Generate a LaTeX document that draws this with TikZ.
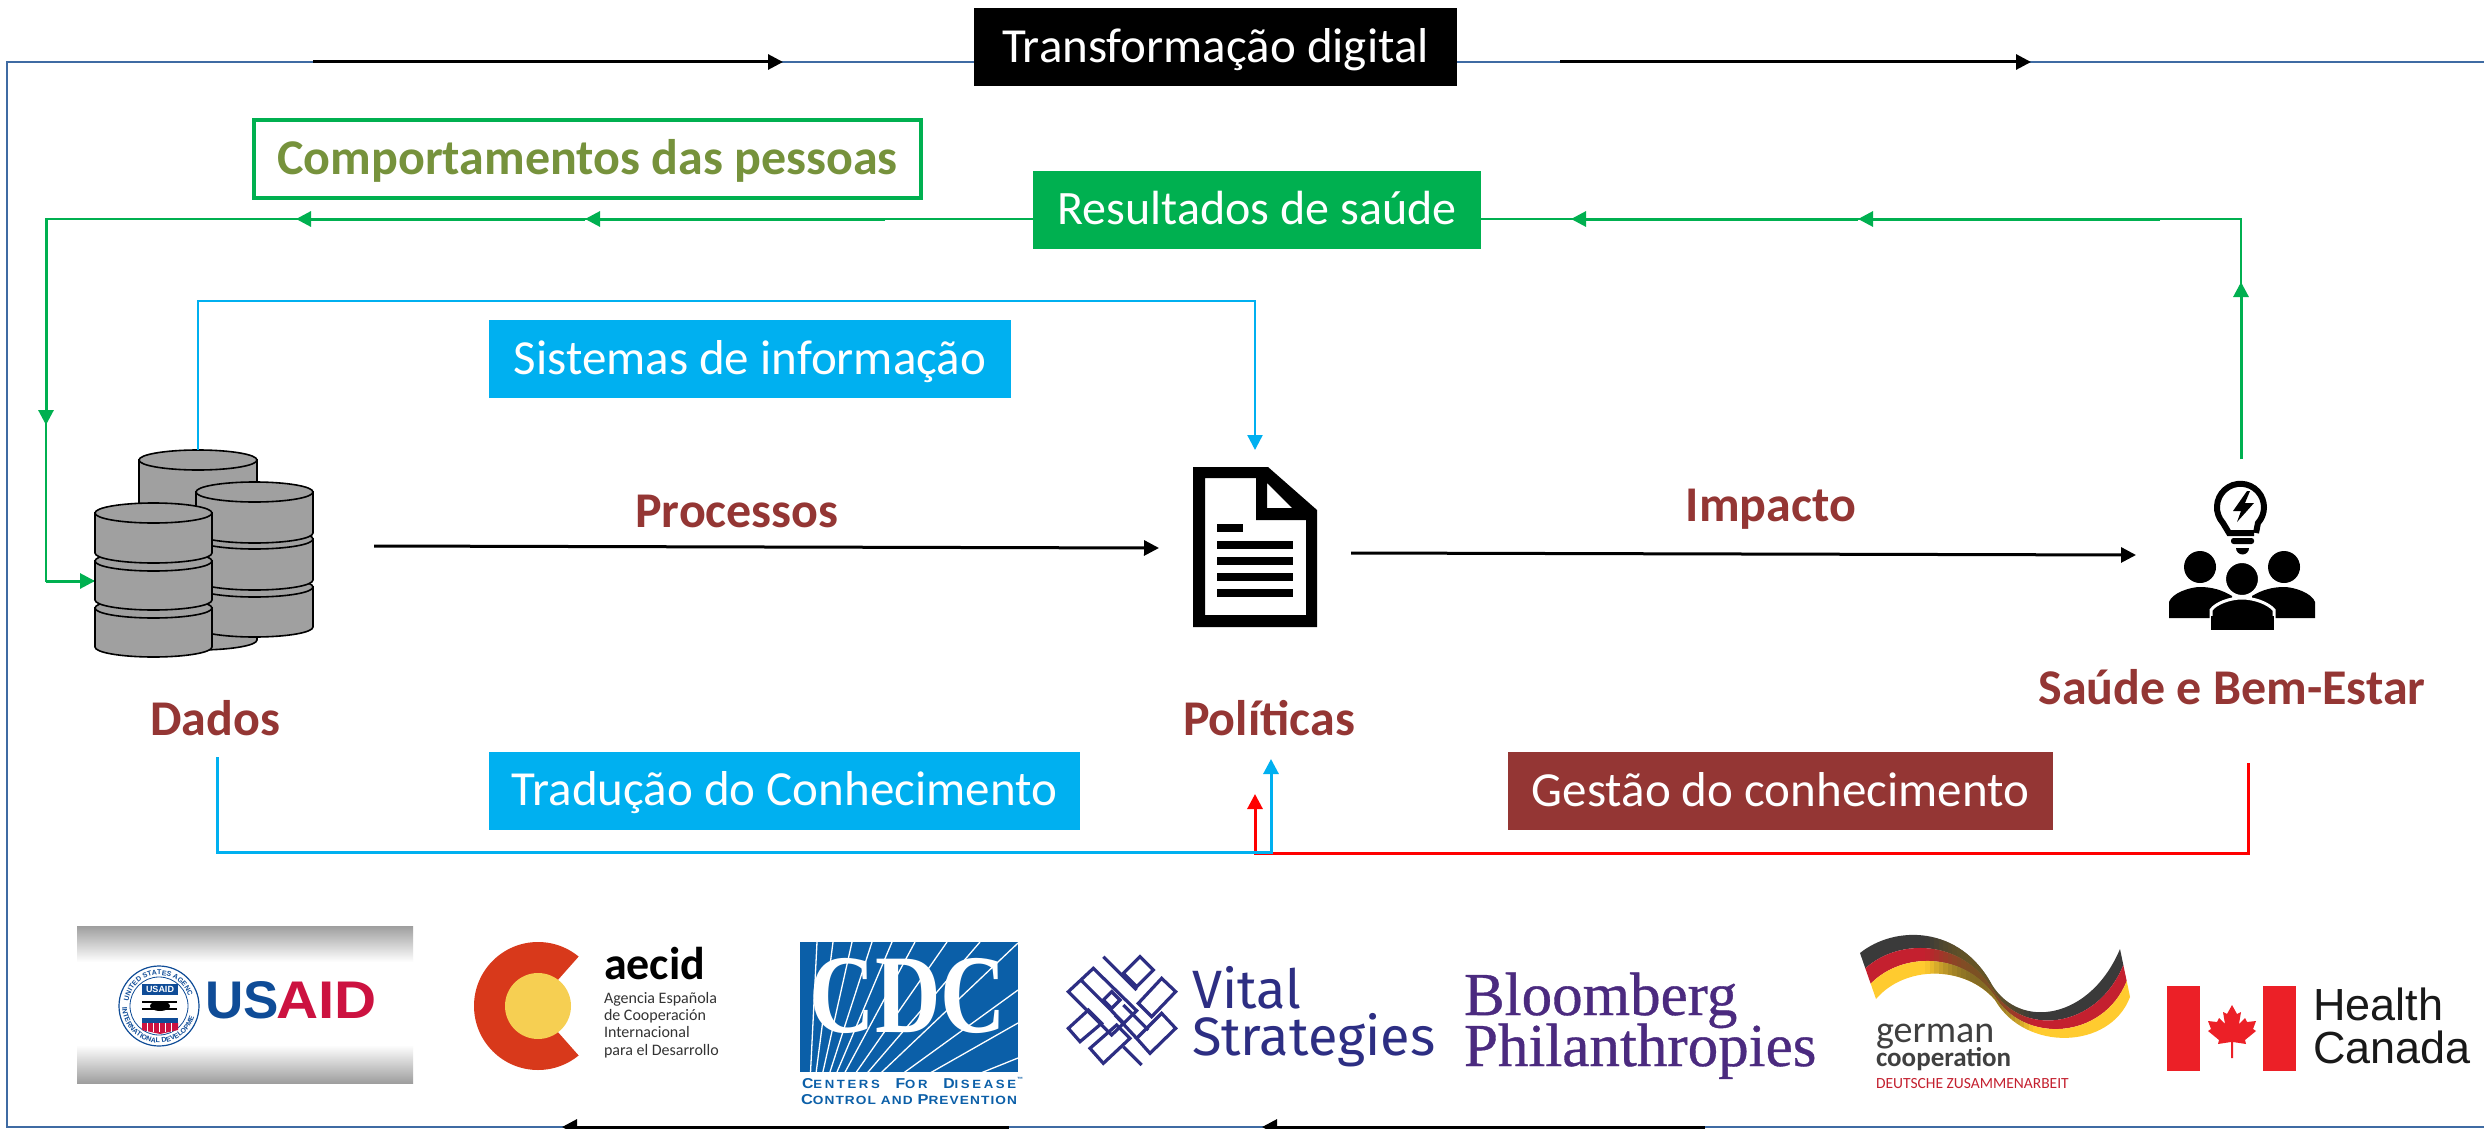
\documentclass[tikz,border=0pt]{standalone}
\usepackage{fontspec}
\usepackage{graphicx}
\setmainfont{Carlito}
\newfontfamily\arialf{Liberation Sans}
\newfontfamily\timesf{Liberation Serif}
\newfontfamily\timesfk[FakeBold=0.6]{Liberation Serif}
\newfontfamily\fira{Fira Sans}
\usetikzlibrary{arrows.meta,decorations.text,calc}
\definecolor{framebl}{HTML}{3F6BA3}
\definecolor{gr}{HTML}{00B050}
\definecolor{cy}{HTML}{00B0F0}
\definecolor{brn}{HTML}{943634}
\definecolor{oli}{HTML}{76923C}
\definecolor{dbg}{HTML}{A0A0A0}
\definecolor{usnavy}{HTML}{0F4C97}
\definecolor{usred}{HTML}{CC1240}
\definecolor{cdcbl}{HTML}{0B5FA8}
\definecolor{vit}{HTML}{2D2E83}
\definecolor{blo}{HTML}{4B2A7F}
\definecolor{canr}{HTML}{EC2027}
\definecolor{gerbk}{HTML}{3A3A3A}
\definecolor{gerrd}{HTML}{C4202F}
\definecolor{gery}{HTML}{FFCB2F}
\definecolor{gerol}{HTML}{6E5A22}
\definecolor{aer}{HTML}{D8391B}
\definecolor{aey}{HTML}{F6CF52}
\newcommand{\fs}[1]{\fontsize{#1}{#1}\selectfont}
\newcommand{\dbseg}[4]{%
  \pgfmathsetmacro\rr{(#2-#1)/2}\pgfmathsetmacro\mm{(#2+#1)/2}%
  \filldraw[dbst] (#1,#3) -- (#1,#4) arc[start angle=180,end angle=0,x radius=\rr,y radius=10] -- (#2,#3) -- cycle;%
  \filldraw[dbst] (\mm,#3) ellipse[x radius=\rr,y radius=10];}
\tikzset{
  every node/.style={inner sep=0pt,outer sep=0pt},
  flow/.style={line width=3pt,-{Triangle[length=15pt,width=15pt]}},
  thinflow/.style={line width=2pt},
  blackflow/.style={flow,draw=black},
  tag/.style={minimum height=78pt,text=white,font=\fs{49},text height=35pt,text depth=5pt},
  lab/.style={text=brn,font=\fs{50}\bfseries,anchor=base},
  dbst/.style={fill=dbg,draw=black,line width=1.6pt},
  knot/.style={draw=vit,line width=3.2pt,line join=miter},
  logotxt/.style={anchor=base west},
  icon/.style={minimum width=#1,minimum height=#1}
}
\begin{document}
\begin{tikzpicture}[x=1pt,y=-1pt]
\useasboundingbox (0,0) rectangle (2484,1129);
\fill[white] (0,0) rectangle (2484,1129);

% outer frame
\coordinate (fa) at (2484,62); \coordinate (fb) at (7,62);
\coordinate (fc) at (7,1127);  \coordinate (fd) at (2484,1127);
\draw[framebl,line width=2.6pt] (fa) -- (fb) -- (fc) -- (fd);
\coordinate (t1a) at (313,62); \coordinate (t1b) at (783,62);
\coordinate (t2a) at (1560,62);\coordinate (t2b) at (2031,62);
\draw[blackflow] (t1a) -- (t1b);
\draw[blackflow] (t2a) -- (t2b);
\coordinate (b1a) at (1009,1127); \coordinate (b1b) at (562,1127);
\coordinate (b2a) at (1705,1127); \coordinate (b2b) at (1262,1127);
\draw[blackflow] (b1a) -- (b1b);
\draw[blackflow] (b2a) -- (b2b);
\node[tag,fill=black,minimum width=483pt] (transf) at (1215.5,47.5) {Transformação digital};

% icon anchors
\node[icon=10pt] (dbicon) at (204,555) {};
\node[icon=10pt] (docicon) at (1255,547) {};
\node[icon=10pt] (peopleicon) at (2242,560) {};

% green loop
\coordinate (g0) at (2241,459); \coordinate (g1) at (2241,282); \coordinate (g2) at (2241,219);
\coordinate (g2b) at (2160,219);
\coordinate (g3) at (1858,219); \coordinate (g4) at (1571,219);
\coordinate (g4b) at (885,219);
\coordinate (g5) at (585,219);  \coordinate (g6) at (296,219);
\coordinate (g7) at (46,219);   \coordinate (g8) at (46,425); \coordinate (g9) at (46,581); \coordinate (g10) at (95,581);
\draw[gr,thinflow] (g0) -- (g2) -- (g7) -- (g9) -- (g10);
\draw[flow,draw=gr] (g0) -- (g1);
\draw[flow,draw=gr] (g2b) -- (g3);
\draw[flow,draw=gr] (g3) -- (g4);
\draw[flow,draw=gr] (g4b) -- (g5);
\draw[flow,draw=gr] (g5) -- (g6);
\draw[flow,draw=gr] (g7) -- (g8);
\draw[flow,draw=gr] (g9) -- (g10);
\node[tag,fill=gr,minimum width=448pt,font=\fs{48}] (result) at (1257,209.5) {Resultados de saúde};
\node[draw=gr,line width=4pt,minimum width=667pt,minimum height=77pt,fill=white,text=oli,font=\fs{50}\bfseries,text height=35pt,text depth=5pt] (comport) at (587.5,159) {Comportamentos das pessoas};

% database icon
\dbseg{139}{257}{460}{640}
\dbseg{196}{313}{587}{627}
\dbseg{196}{313}{539}{580}
\dbseg{196}{313}{492}{533}
\dbseg{95}{212}{608}{647}
\dbseg{95}{212}{561}{600}
\dbseg{95}{212}{513}{553}

% blue top connector
\coordinate (c0) at (198,450); \coordinate (c1) at (198,301); \coordinate (c2) at (1255,301); \coordinate (c3) at (1255,450);
\draw[flow,draw=cy,line width=2.4pt] (c0) -- (c1) -- (c2) -- (c3);
\node[tag,fill=cy,minimum width=522pt] (sist) at (750,359) {Sistemas de informação};

% document icon
\fill[black,even odd rule] (1193,467) -- (1268,467) -- (1317,510) -- (1317,627) -- (1193,627) -- cycle
  (1205,478) -- (1256,478) -- (1256,520) -- (1306,520) -- (1306,615) -- (1205,615) -- cycle
  (1267,483) -- (1292,508) -- (1267,508) -- cycle;
\fill (1217,524) rectangle (1243,532);
\foreach \yy in {541,557,573,589}{\fill (1217,\yy) rectangle (1293,\yy+8);}

% people icon
\draw[line width=6pt] (2254,533) -- (2229,533) -- (2223,523) arc[start angle=138,end angle=402,radius=23.5] -- (2256,533);
\fill (2247,491) -- (2233,511) -- (2241,511) -- (2237,522) -- (2254,503) -- (2245,503) -- (2250,491) -- cycle;
\fill[rounded corners=2.5pt] (2231,538) rectangle (2254,544);
\fill (2236,548) -- (2249,548) arc[start angle=0,end angle=180,radius=6.5] -- cycle;
\fill (2200,567) circle[radius=16];
\fill (2284,567) circle[radius=16];
\fill (2169,618) -- (2169,602) .. controls (2172,593) and (2190,587) .. (2200,587) .. controls (2212,587) and (2222,590) .. (2232,596) -- (2232,618) -- cycle;
\fill (2315,618) -- (2315,602) .. controls (2312,593) and (2294,587) .. (2284,587) .. controls (2272,587) and (2262,590) .. (2252,596) -- (2252,618) -- cycle;
\filldraw[draw=white,line width=3pt] (2211,631) -- (2211,610) .. controls (2216,603) and (2230,598) .. (2242,598) .. controls (2254,598) and (2268,603) .. (2274,610) -- (2274,631) -- cycle;
\filldraw[draw=white,line width=2pt] (2242,579) circle[radius=17];
\fill[white] (2205,630.5) rectangle (2280,634);
\fill (2211,616) rectangle (2274,630);

% main black arrows
\coordinate (p0) at (374,546); \coordinate (p1) at (1159,548);
\draw[blackflow] (p0) -- (p1);
\coordinate (i0) at (1351,553); \coordinate (i1) at (2136,555);
\draw[blackflow] (i0) -- (i1);

% labels
\node[lab] (processos) at (737,527) {Processos};
\node[lab] (impacto) at (1771,521) {Impacto};
\node[lab] (dados) at (215,735) {Dados};
\node[lab] (politicas) at (1269,735) {Políticas};
\node[lab] (saude) at (2232,704) {Saúde e Bem-Estar};

% bottom connectors
\coordinate (r0) at (2248,763); \coordinate (r1) at (2248,853); \coordinate (r2) at (1255,853); \coordinate (r3) at (1255,794);
\draw[flow,draw=red] (r0) -- (r1) -- (r2) -- (r3);
\coordinate (k0) at (217,757); \coordinate (k1) at (217,852); \coordinate (k2) at (1271,852); \coordinate (k3) at (1271,759);
\draw[flow,draw=cy] (k0) -- (k1) -- (k2) -- (k3);
\node[tag,fill=cy,minimum width=591pt] (trad) at (784.5,790.5) {Tradução do Conhecimento};
\node[tag,fill=brn,minimum width=545pt] (gest) at (1780.5,791) {Gestão do conhecimento};

% ---- logos ----
% USAID
\shade[top color=black!38,bottom color=white] (77,926) rectangle (413,962);
\fill[white] (77,962) rectangle (413,1050);
\shade[top color=white,bottom color=black!38] (77,1045) rectangle (413,1083);
\filldraw[fill=white,draw=usnavy,line width=1.2pt] (159,1006) circle[radius=40];
\draw[usnavy,line width=.8pt] (159,1006) circle[radius=29];
\path[postaction={decorate},decoration={text along path,text align=center,text={|\arialf\fs{7}\bfseries\color{usnavy}|UNITED STATES AGENCY}}] (159,1006) ++(195:31) arc[start angle=195,end angle=345,radius=31];
\path[postaction={decorate},decoration={text along path,text align=center,text={|\arialf\fs{7}\bfseries\color{usnavy}|INTERNATIONAL DEVELOPMENT}}] (159,1006) ++(165:37) arc[start angle=165,end angle=15,radius=37];
\node[fill=usnavy,minimum width=36pt,minimum height=11pt,text=white,font=\arialf\fs{9}\bfseries] (usbadge) at (160,989.5) {USAID};
\draw[line width=1.3pt] (142,1002) -- (177,1002) (142,1009) -- (177,1009);
\fill (160,1006) ellipse[x radius=10,y radius=5];
\fill[usnavy] (142,1018) rectangle (178,1023);
\fill[usred] (142,1023) -- (178,1023) -- (178,1030) -- (160,1034) -- (142,1030) -- cycle;
\foreach \xx in {147,153,159,165,171}{\fill[white] (\xx,1023) rectangle (\xx+1.4,1032);}
\node[logotxt,text=usnavy,font=\arialf\fs{53}\bfseries] (usa) at (205,1018) {US};
\node[logotxt,text=usred,font=\arialf\fs{53}\bfseries] (aid) at (276,1018) {\scalebox{1.1}[1]{AID}};

% AECID
\fill[aer] (538,1006) circle[radius=64];
\fill[white] (610,935) -- (582,953) -- (535,1006) -- (582,1059) -- (610,1077) -- cycle;
\fill[aey] (538,1006) circle[radius=33];
\node[logotxt,font=\fs{46}\bfseries] (aecidt) at (604,979) {aecid};
\node[logotxt,text=black!80,font=\fs{16}] (ae1) at (604,1003) {Agencia Española};
\node[logotxt,text=black!80,font=\fs{16}] (ae2) at (604,1020) {de Cooperación};
\node[logotxt,text=black!80,font=\fs{16}] (ae3) at (604,1037) {Internacional};
\node[logotxt,text=black!80,font=\fs{16}] (ae4) at (604,1055) {para el Desarrollo};

% CDC
\fill[cdcbl] (800,942) rectangle (1018,1072);
\begin{scope}
\clip (800,942) rectangle (1018,1072);
\coordinate (cdo) at (807,1143);
\foreach \ex/\ey in {817/942,833/942,852/942,872/942,892/942,915/942,947/942,980/942,1018/943,1018/990,1018/1023,1018/1058}{
  \draw[white,line width=1.3pt] (cdo) -- (\ex,\ey);}
\end{scope}
\node[text=white,font=\timesf\bfseries\fs{112},anchor=base] (cdct) at (908,1032) {\scalebox{.81}[1]{CDC}};
\node[text=cdcbl,font=\arialf\bfseries,anchor=base] (cdc1) at (909,1088) {\resizebox{214pt}{10pt}{\fs{12}\addfontfeatures{LetterSpace=20}C\fs{10}ENTERS\hspace{1.2em}\fs{12}F\fs{10}OR\hspace{1.2em}\fs{12}D\fs{10}ISEASE}};
\node[text=cdcbl,font=\arialf\fs{6}\bfseries] (cdctm) at (1020,1079) {™};
\node[text=cdcbl,font=\arialf\bfseries,anchor=base] (cdc2) at (909,1104) {\resizebox{216pt}{10pt}{\fs{12}\addfontfeatures{LetterSpace=8}C\fs{10}ONTROL AND \fs{12}P\fs{10}REVENTION}};

% Vital Strategies knot
\begin{scope}[shift={(1055,940)},x=.3333pt,y=-.3333pt]
\draw[knot] (205,100) -- (255,50) -- (295,90) -- (245,140) -- cycle;
\draw[knot] (145,50) -- (245,150);
\draw[knot] (115,85) -- (40,155) -- (170,285) -- (245,212) -- cycle;
\draw[knot] (78,120) -- (205,248);
\draw[knot] (170,155) -- (195,180) -- (170,205) -- (145,180) -- cycle;
\draw[knot] (105,325) -- (145,370) -- (225,295) -- (185,255) -- cycle;
\draw[knot] (205,320) -- (260,375);
\draw[knot] (40,265) -- (100,210) -- (140,250) -- (75,305) -- cycle;
\draw[knot] (250,190) -- (320,115) -- (362,155) -- (290,230) -- cycle;
\draw[knot] (285,340) -- (362,265) -- (320,220) -- (245,295) -- cycle;
\draw[knot] (180,225) -- (245,295);
\draw[knot] (205,195) -- (280,270);
\end{scope}
\node[logotxt,text=vit,font=\fira\fs{54}] (vit1) at (1192,1008) {Vital};
\node[logotxt,text=vit,font=\fira\fs{54}] (vit2) at (1192,1055) {Strategies};

% Bloomberg
\node[logotxt,text=blo,font=\timesfk\fs{61}] (blo1) at (1464,1015) {Bloomberg};
\node[logotxt,text=blo,font=\timesfk\fs{61}] (blo2) at (1464,1066) {Philanthropies};

% German cooperation
\fill[gerbk] (1860,953) .. controls (1895,925) and (1960,925) .. (1992,985) .. controls (2020,1030) and (2090,1020) .. (2120,949)
  -- (2123.3,965) .. controls (2096.7,1030) and (2021.7,1037.3) .. (1993,990) .. controls (1961.7,938.3) and (1898.3,938.3) .. (1865.3,968.3) -- cycle;
\fill[gerrd] (1865.3,968.3) .. controls (1898.3,938.3) and (1961.7,938.3) .. (1993,990) .. controls (2021.7,1037.3) and (2096.7,1030) .. (2123.3,965)
  -- (2126.7,981) .. controls (2103.3,1040) and (2023.3,1044.7) .. (1994,995) .. controls (1963.3,951.7) and (1901.7,951.7) .. (1870.7,983.7) -- cycle;
\fill[gery] (1870.7,983.7) .. controls (1901.7,951.7) and (1963.3,951.7) .. (1994,995) .. controls (2023.3,1044.7) and (2103.3,1040) .. (2126.7,981)
  -- (2130,997) .. controls (2110,1050) and (2025,1052) .. (1995,1000) .. controls (1965,965) and (1905,965) .. (1876,999) -- cycle;
\begin{scope}
\clip (1860,953) .. controls (1895,925) and (1960,925) .. (1992,985) .. controls (2020,1030) and (2090,1020) .. (2120,949)
  -- (2130,997) .. controls (2110,1050) and (2025,1052) .. (1995,1000) .. controls (1965,965) and (1905,965) .. (1876,999) -- cycle;
\foreach \i in {0,...,23}{
  \pgfmathsetmacro\op{.85*sin(180*(\i+.5)/24)}
  \fill[gerol,opacity=\op] (1925+\i*4.5,930) rectangle (1925+\i*4.5+4.5,1060);
}
\end{scope}
\node[logotxt,text=black!75,font=\fs{38}] (ge1) at (1876,1042) {german};
\node[logotxt,text=black!75,font=\fs{27}\bfseries] (ge2) at (1876,1066) {cooperation};
\node[logotxt,text=gerrd,font=\fs{15.5}] (ge3) at (1876,1088) {DEUTSCHE ZUSAMMENARBEIT};

% Health Canada
\fill[canr] (2167,986) rectangle (2200,1071);
\fill[canr] (2263,986) rectangle (2296,1071);
\begin{scope}[shift={(2232,1005)}]
\fill[canr] (0,0) -- (5,9) -- (9,7) -- (7,19) -- (13,13) -- (15,17) -- (24,16) -- (21,24) -- (24,26) -- (13,35) -- (14,39) -- (1,37) -- (1,53) -- (-1,53) -- (-1,37) -- (-14,39) -- (-13,35) -- (-24,26) -- (-21,24) -- (-24,16) -- (-15,17) -- (-13,13) -- (-7,19) -- (-9,7) -- (-5,9) -- cycle;
\end{scope}
\node[logotxt,text=black!90,font=\arialf\fs{45}] (hc1) at (2313,1020) {Health};
\node[logotxt,text=black!90,font=\arialf\fs{45}] (hc2) at (2313,1063) {Canada};
\end{tikzpicture}
\end{document}
